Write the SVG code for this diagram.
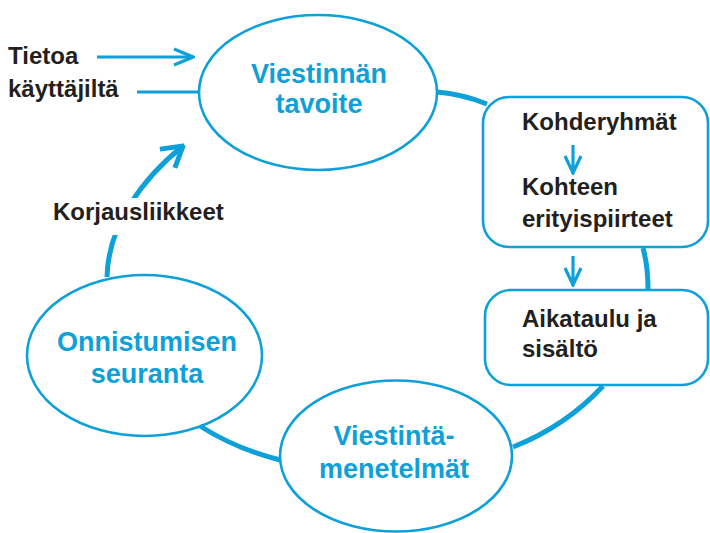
<svg xmlns="http://www.w3.org/2000/svg" width="710" height="533" viewBox="0 0 710 533">
  <defs>
    <style>
      .node { fill: #ffffff; stroke: #0ea0d8; stroke-width: 2.6; }
      .title { font-family: "Liberation Sans", Arial, sans-serif; font-weight: bold; font-size: 27px; fill: #0ea0d8; text-anchor: middle; }
      .label { font-family: "Liberation Sans", Arial, sans-serif; font-weight: bold; font-size: 24px; fill: #231f20; }
      .thick { fill: none; stroke: #0ea0d8; stroke-width: 5; }
      .thin { fill: none; stroke: #0ea0d8; stroke-width: 3.2; }
    </style>
    <marker id="head-thin" viewBox="-20 -10 22 20" markerWidth="22" markerHeight="20" refX="0" refY="0" orient="auto" markerUnits="userSpaceOnUse">
      <path d="M-19,-8 L0,0 L-19,8" fill="none" stroke="#0ea0d8" stroke-width="3.2"/>
    </marker>
    <marker id="head-small" viewBox="-20 -10 22 20" markerWidth="22" markerHeight="20" refX="0" refY="0" orient="auto" markerUnits="userSpaceOnUse">
      <path d="M-17,-8 L0,0 L-17,8" fill="none" stroke="#0ea0d8" stroke-width="3.2"/>
    </marker>
    <marker id="head-thick" viewBox="-26 -14 28 28" markerWidth="28" markerHeight="28" refX="0" refY="0" orient="auto" markerUnits="userSpaceOnUse">
      <path d="M-20,-12 L0,0 L-20,12" fill="none" stroke="#0ea0d8" stroke-width="5"/>
    </marker>
    <mask id="textgap" maskUnits="userSpaceOnUse" x="0" y="0" width="710" height="533">
      <rect x="0" y="0" width="710" height="533" fill="#ffffff"/>
      <rect x="40" y="198" width="190" height="37" fill="#000000"/>
    </mask>
  </defs>

  <g id="viestinnan-tavoite">
    <ellipse class="node" cx="318" cy="92.5" rx="119" ry="77.5"/>
    <text class="title" x="319" y="83">Viestinnän</text>
    <text class="title" x="319" y="113">tavoite</text>
  </g>

  <g id="kohderyhmat">
    <rect class="node" x="483" y="97" width="225" height="150" rx="26" ry="26"/>
    <text class="label" x="522" y="130">Kohderyhmät</text>
    <text class="label" x="522" y="195">Kohteen</text>
    <text class="label" x="522" y="227">erityispiirteet</text>
  </g>

  <g id="aikataulu">
    <rect class="node" x="485" y="290" width="223" height="95" rx="26" ry="26"/>
    <text class="label" x="522" y="327">Aikataulu ja</text>
    <text class="label" x="522" y="357">sisältö</text>
  </g>

  <g id="viestintamenetelmat">
    <ellipse class="node" cx="396" cy="456" rx="116" ry="75.5"/>
    <text class="title" x="394" y="445">Viestintä-</text>
    <text class="title" x="394" y="478">menetelmät</text>
  </g>

  <g id="onnistumisen-seuranta">
    <ellipse class="node" cx="144.5" cy="355.5" rx="117.5" ry="80.5"/>
    <text class="title" x="147" y="351">Onnistumisen</text>
    <text class="title" x="147" y="383">seuranta</text>
  </g>

  <g id="tietoa">
    <text class="label" x="8" y="64">Tietoa</text>
    <text class="label" x="8" y="97">käyttäjiltä</text>
  </g>

  <g id="korjausliikkeet">
    <text class="label" x="53" y="220">Korjausliikkeet</text>
  </g>

  <g id="connectors">
    <path class="thick" d="M437,92 Q462,94 487,104"/>
    <path class="thick" d="M643,248 Q648,266 648,289"/>
    <path class="thick" d="M603,386 Q566,426 513,447"/>
    <path class="thick" d="M200,426 Q236,449 280,460"/>
    <path class="thick" d="M107,277 C108,225 143,178 183,146" mask="url(#textgap)" marker-end="url(#head-thick)"/>
    <path class="thin" d="M97,57 L193,57" marker-end="url(#head-thin)"/>
    <path class="thin" d="M137,92 L199,92"/>
    <path class="thin" d="M573,145 L573,173" marker-end="url(#head-small)"/>
    <path class="thin" d="M573,256 L573,285" marker-end="url(#head-small)"/>
  </g>
</svg>
